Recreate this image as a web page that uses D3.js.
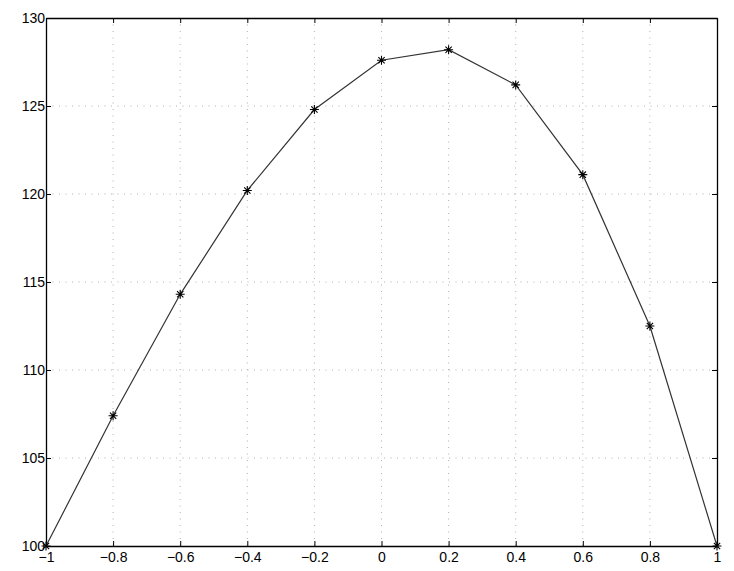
<!DOCTYPE html>
<meta charset="utf-8">
<style>
body {
  font-family: "Liberation Sans", Arial, sans-serif;
  margin: 0;
  background: #fff;
}
html {
  overflow: hidden;
}
.grid line {
  stroke: #b0b0b0;
  stroke-width: 1px;
  stroke-dasharray: 1,5.5;
}
.tick text {
  font-size: 14px;
  fill: #000;
}
</style>
<body>
<script src="https://cdn.jsdelivr.net/npm/d3@7"></script>
<script>
var xValues = [-1, -0.8, -0.6, -0.4, -0.2, 0, 0.2, 0.4, 0.6, 0.8, 1];
var yValues = [100, 107.4, 114.3, 120.2, 124.8, 127.6, 128.2, 126.2, 121.1, 112.5, 100];
var xTicks = [-1, -0.8, -0.6, -0.4, -0.2, 0, 0.2, 0.4, 0.6, 0.8, 1];
var yTicks = [100, 105, 110, 115, 120, 125, 130];

var width = 734, height = 571;
var margin = {left: 46, right: 17, top: 18, bottom: 25};

var svg = d3.select("body").append("svg")
    .attr("width", width).attr("height", height);

var x = d3.scaleLinear().domain([-1, 1]).range([margin.left, width - margin.right]);
var y = d3.scaleLinear().domain([100, 130]).range([height - margin.bottom, margin.top]);

var fmt = function(d) { return d3.format("")(d).replace("-", "\u2212"); };

// grid
var grid = svg.append("g").attr("class", "grid");
grid.selectAll(".gx").data(xTicks.slice(1, -1)).enter().append("line")
    .attr("x1", function(d) { return x(d); }).attr("x2", function(d) { return x(d); })
    .attr("y1", y(130)).attr("y2", y(100));
grid.selectAll(".gy").data(yTicks.slice(1, -1)).enter().append("line")
    .attr("y1", function(d) { return y(d); }).attr("y2", function(d) { return y(d); })
    .attr("x1", x(-1)).attr("x2", x(1));

// axes, ticks pointing inward on all four sides
svg.append("g")
    .attr("transform", "translate(0," + y(100) + ")")
    .call(d3.axisBottom(x).tickValues(xTicks).tickFormat(fmt).tickSizeInner(-5).tickSizeOuter(0).tickPadding(6));
svg.append("g")
    .attr("transform", "translate(0," + y(130) + ")")
    .call(d3.axisTop(x).tickValues(xTicks).tickFormat("").tickSizeInner(-5).tickSizeOuter(0));
svg.append("g")
    .attr("transform", "translate(" + x(-1) + ",0)")
    .call(d3.axisLeft(y).tickValues(yTicks).tickFormat(fmt).tickSizeInner(-5).tickSizeOuter(0).tickPadding(1));
svg.append("g")
    .attr("transform", "translate(" + x(1) + ",0)")
    .call(d3.axisRight(y).tickValues(yTicks).tickFormat("").tickSizeInner(-5).tickSizeOuter(0));

svg.selectAll(".domain").attr("stroke", "#000").attr("stroke-width", 1.3);
svg.selectAll(".tick line").attr("stroke", "#000");
svg.selectAll(".tick text").attr("font-family", "Liberation Sans, Arial, sans-serif");

// data line
var pts = xValues.map(function(d, i) { return [d, yValues[i]]; });
svg.append("path")
    .datum(pts)
    .attr("fill", "none")
    .attr("stroke", "#333")
    .attr("stroke-width", 1.2)
    .attr("d", d3.line().x(function(d) { return x(d[0]); }).y(function(d) { return y(d[1]); }));

// asterisk markers
var r = 4.5;
svg.append("g").selectAll("path.mk").data(pts).enter().append("path")
    .attr("class", "mk")
    .attr("transform", function(d) { return "translate(" + x(d[0]) + "," + y(d[1]) + ")"; })
    .attr("d", "M" + (-r) + ",0H" + r + "M0," + (-r) + "V" + r +
               "M" + (-r * 0.7) + "," + (-r * 0.7) + "L" + (r * 0.7) + "," + (r * 0.7) +
               "M" + (-r * 0.7) + "," + (r * 0.7) + "L" + (r * 0.7) + "," + (-r * 0.7))
    .attr("stroke", "#000")
    .attr("stroke-width", 1.1)
    .attr("fill", "none");
</script>
</body>
